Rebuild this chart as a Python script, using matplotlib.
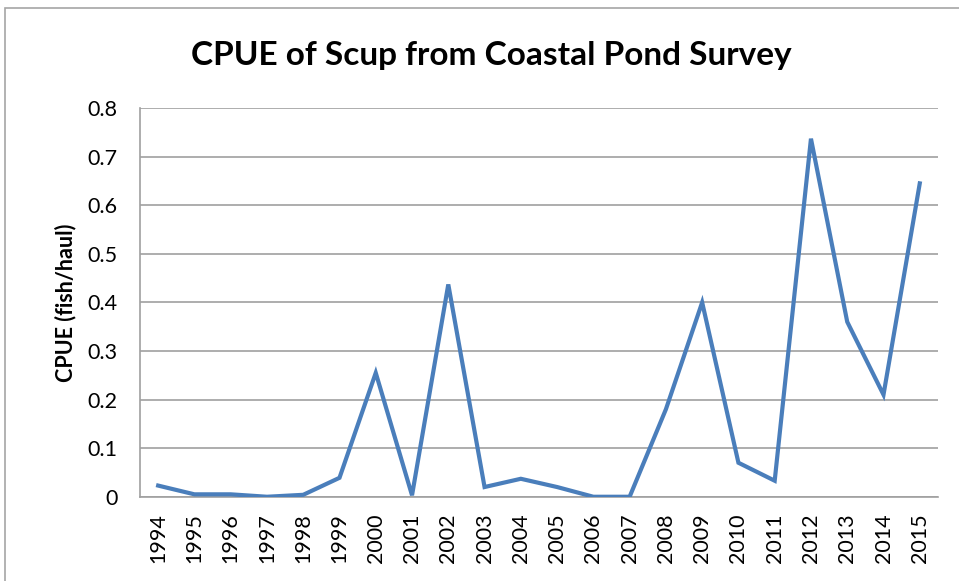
import matplotlib
matplotlib.use("Agg")
import matplotlib.pyplot as plt
from matplotlib.patches import Rectangle

years = [str(y) for y in range(1994, 2016)]
cpue = [0.023, 0.005, 0.005, 0.0, 0.004, 0.039, 0.255, 0.003, 0.437, 0.02, 0.037,
        0.02, 0.0, 0.0, 0.18, 0.40, 0.07, 0.033, 0.737, 0.36, 0.21, 0.645]
yticks = [0, 0.1, 0.2, 0.3, 0.4, 0.5, 0.6, 0.7, 0.8]

plt.rcParams['font.family'] = ['Lato', 'DejaVu Sans']

fig = plt.figure(figsize=(9.59, 5.81), dpi=100)
# outer chart frame
fig.patches.append(Rectangle((0.005, -0.01), 1.0, 0.997, transform=fig.transFigure,
                             fill=False, edgecolor='#a6a6a6', linewidth=1.2))
ax = fig.add_axes([0.146, 0.145, 0.832, 0.669])

x = list(range(len(years)))
ax.plot(x, cpue, color='#4a7ebb', linewidth=3.0, solid_joinstyle='miter', zorder=3)

ax.set_xlim(-0.5, len(years) - 0.5)
ax.set_ylim(0, 0.8)
ax.set_xticks(x)
ax.set_xticklabels(years, rotation=90, fontsize=15.5)
ax.set_yticks(yticks)
ax.set_yticklabels(['0', '0.1', '0.2', '0.3', '0.4', '0.5', '0.6', '0.7', '0.8'], fontsize=15.5)
ax.tick_params(length=0)
ax.tick_params(axis='y', pad=16)
ax.tick_params(axis='x', pad=12)
ax.grid(axis='y', color='#a0a0a0', linewidth=1.2)
ax.set_axisbelow(True)
for s in ['top', 'right']:
    ax.spines[s].set_visible(False)
ax.spines['left'].set_color('#a0a0a0')
ax.spines['bottom'].set_color('#a0a0a0')
ax.spines['left'].set_linewidth(1.2)
ax.spines['bottom'].set_linewidth(1.2)

ax.set_ylabel('CPUE (fish/haul)', fontsize=15.5, fontweight='bold', labelpad=8)
fig.text(0.512, 0.905, 'CPUE of Scup from Coastal Pond Survey', ha='center', va='center',
         fontsize=24, fontweight='bold')

fig.savefig('out.png', dpi=100)
